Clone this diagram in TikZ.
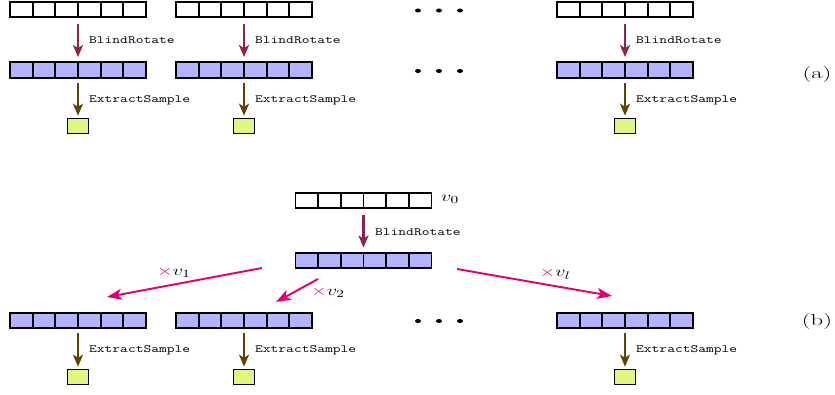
\documentclass[tikz,border=0pt]{standalone}
\usepackage{graphicx}
\usetikzlibrary{arrows.meta,shapes.geometric}
\definecolor{rotcol}{RGB}{140,34,80}
\definecolor{extcol}{RGB}{100,66,6}
\definecolor{cellblue}{RGB}{179,179,255}
\definecolor{sampcol}{RGB}{224,246,128}
\definecolor{mulcol}{RGB}{226,0,112}
\newcommand\hstretchx[2]{\scalebox{#1}[1]{#2}}
\tikzset{
  cell/.style={draw=black,line width=1.8pt,minimum width=22.67pt,minimum height=15.5pt,inner sep=0pt},
  arrbox/.style={minimum width=136pt,minimum height=15.5pt,inner sep=0pt},
  sampbox/.style={draw=black,line width=1.6pt,fill=sampcol,minimum width=21pt,minimum height=15pt,inner sep=0pt},
  rotarrow/.style={draw=rotcol,line width=2.2pt,-{Stealth[length=12pt,width=10pt,inset=3pt]},shorten <=7pt,shorten >=5pt},
  extarrow/.style={draw=extcol,line width=2.2pt,-{Stealth[length=12pt,width=10pt,inset=3pt]},shorten <=5pt,shorten >=2pt},
  mularrow/.style={draw=mulcol,line width=1.9pt,-{Stealth[length=15pt,width=11pt,inset=4pt]}},
  oplabel/.style={anchor=west,inner sep=0pt,font=\fontsize{11}{12}\ttfamily},
  mathlabel/.style={inner sep=0pt,font=\fontsize{15}{16}\selectfont},
  dot/.style={ellipse,fill=black,inner sep=0pt,minimum width=6pt,minimum height=4pt}
}
\newcommand\cellrow[4]{%
  \node[arrbox] (#1) at (#2,#3) {};
  \foreach \k in {1,...,6}{
    \node[cell,fill=#4] (#1-\k) at ({#2-68+22.67*(\k-0.5)},#3) {};
  }
}
\newcommand\oplab[1]{\hstretchx{1.37}{#1}}
\newcommand\mlab[1]{\hstretchx{1.4}{#1}}
\begin{document}
\begin{tikzpicture}[x=1pt,y=-1pt]
\useasboundingbox (0,0) rectangle (835,394);
% ---------- (a) ----------
\cellrow{ia}{78}{9.5}{white}
\cellrow{ib}{244}{9.5}{white}
\cellrow{ic}{625}{9.5}{white}
\cellrow{ra}{78}{70}{cellblue}
\cellrow{rb}{244}{70}{cellblue}
\cellrow{rc}{625}{70}{cellblue}
\node[sampbox] (sa) at (78,126) {};
\node[sampbox] (sb) at (244,126) {};
\node[sampbox] (sc) at (625,126) {};
\foreach \p in {a,b,c}{
  \draw[rotarrow] (i\p.south) -- (r\p.north);
  \draw[extarrow] (r\p.south) -- (s\p.north);
}
\node[oplabel] (la1) at (89,40) {\oplab{BlindRotate}};
\node[oplabel] (la2) at (255,40) {\oplab{BlindRotate}};
\node[oplabel] (la3) at (636,40) {\oplab{BlindRotate}};
\node[oplabel] (le1) at (89,100) {\oplab{ExtractSample}};
\node[oplabel] (le2) at (255,100) {\oplab{ExtractSample}};
\node[oplabel] (le3) at (636,100) {\oplab{ExtractSample}};
\node[dot] (d1) at (418,10.5) {};
\node[dot] (d2) at (439,10.5) {};
\node[dot] (d3) at (460,10.5) {};
\node[dot] (d4) at (418,71) {};
\node[dot] (d5) at (439,71) {};
\node[dot] (d6) at (460,71) {};
\node[inner sep=0pt,font=\fontsize{16}{17}\selectfont] (tagA) at (817,75) {\hstretchx{1.55}{(a)}};
% ---------- (b) ----------
\cellrow{top}{363.5}{200.5}{white}
\node[mathlabel,anchor=west] (v0) at (441,199) {\mlab{$v_0$}};
\cellrow{mid}{363.5}{260.5}{cellblue}
\draw[rotarrow] (top.south) -- (mid.north);
\node[oplabel] (lb0) at (375,232) {\oplab{BlindRotate}};
\cellrow{ba}{78}{320.5}{cellblue}
\cellrow{bb}{244}{320.5}{cellblue}
\cellrow{bc}{625}{320.5}{cellblue}
\node[sampbox] (ta) at (78,377) {};
\node[sampbox] (tb) at (244,377) {};
\node[sampbox] (tc) at (625,377) {};
\foreach \p in {a,b,c}{
  \draw[extarrow] (b\p.south) -- (t\p.north);
}
\node[oplabel] (lf1) at (89,350) {\oplab{ExtractSample}};
\node[oplabel] (lf2) at (255,350) {\oplab{ExtractSample}};
\node[oplabel] (lf3) at (636,350) {\oplab{ExtractSample}};
\node[dot] (d7) at (418,321) {};
\node[dot] (d8) at (439,321) {};
\node[dot] (d9) at (460,321) {};
\coordinate (m1s) at (262,268);
\coordinate (m1e) at (107,297);
\coordinate (m2s) at (318,279);
\coordinate (m2e) at (276,302);
\coordinate (m3s) at (457,269);
\coordinate (m3e) at (612,296);
\draw[mularrow] (m1s) -- (m1e);
\draw[mularrow] (m2s) -- (m2e);
\draw[mularrow] (m3s) -- (m3e);
\node[mathlabel] (x1) at (174,272) {\mlab{$\textcolor{mulcol}{\times} v_1$}};
\node[mathlabel,anchor=west] (x2) at (311,292) {\mlab{$\textcolor{mulcol}{\times} v_2$}};
\node[mathlabel] (x3) at (555,274) {\mlab{$\textcolor{mulcol}{\times} v_l$}};
\node[inner sep=0pt,font=\fontsize{16}{17}\selectfont] (tagB) at (817,322) {\hstretchx{1.55}{(b)}};
\end{tikzpicture}
\end{document}
